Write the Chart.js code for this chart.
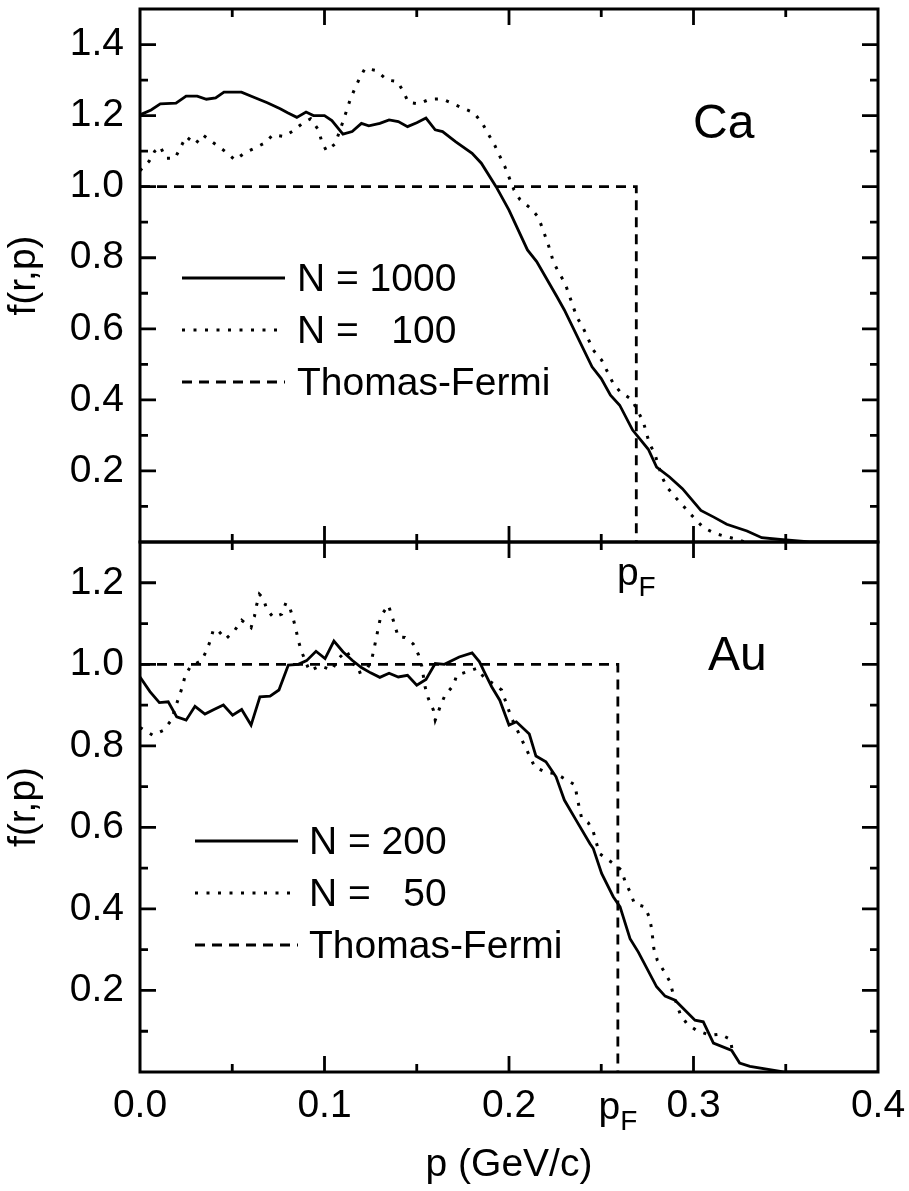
<!DOCTYPE html>
<html>
<head>
<meta charset="utf-8">
<script src="https://cdn.jsdelivr.net/npm/chart.js@4.4.0/dist/chart.umd.min.js"></script>
<style>
  html, body { margin: 0; padding: 0; background: #fff; }
  #wrap { position: relative; width: 909px; height: 1191px; }
  canvas { position: absolute; left: 0; }
</style>
</head>
<body>
<div id="wrap">
  <canvas id="ca" width="909" height="600" style="top:0"></canvas>
  <canvas id="au" width="909" height="661" style="top:530px"></canvas>
</div>
<script>
// Valeurs (p en GeV/c, f(r,p))
const caPF = 0.269;
const auPF = 0.259;

// Ca, N = 1000
const caP1000 = [0, 0.006, 0.011, 0.0195, 0.025, 0.031, 0.036, 0.041, 0.0455, 0.055, 0.061, 0.069, 0.076, 0.080, 0.085,
  0.090, 0.094, 0.100, 0.104, 0.110, 0.115, 0.120, 0.124, 0.130, 0.135, 0.140, 0.145, 0.150, 0.155, 0.160,
  0.164, 0.171, 0.180, 0.185, 0.193, 0.200, 0.210, 0.215, 0.226, 0.230, 0.245, 0.250, 0.255, 0.260, 0.267,
  0.2755, 0.280, 0.287, 0.294, 0.304, 0.311, 0.318, 0.329, 0.337, 0.347, 0.363, 0.400];
const caF1000 = [1.202, 1.216, 1.233, 1.235, 1.255, 1.255, 1.246, 1.25, 1.266, 1.266, 1.253, 1.236, 1.219, 1.208, 1.195,
  1.21, 1.20, 1.20, 1.186, 1.148, 1.155, 1.178, 1.171, 1.178, 1.188, 1.183, 1.169, 1.18, 1.193, 1.16,
  1.155, 1.127, 1.094, 1.066, 1.0, 0.934, 0.822, 0.789, 0.69, 0.653, 0.493, 0.46, 0.413, 0.385, 0.315,
  0.261, 0.211, 0.183, 0.15, 0.089, 0.07, 0.05, 0.031, 0.012, 0.007, 0, 0];

// Ca, N = 100
const caP100 = [0, 0.005, 0.008, 0.011, 0.014, 0.019, 0.022, 0.025, 0.030, 0.034, 0.038, 0.042, 0.047, 0.0515, 0.057,
  0.062, 0.068, 0.072, 0.078, 0.083, 0.0885, 0.0925, 0.0967, 0.0985, 0.101, 0.1057, 0.110, 0.114, 0.1165, 0.119,
  0.122, 0.128, 0.134, 0.1395, 0.1427, 0.1455, 0.151, 0.157, 0.1635, 0.169, 0.175, 0.181, 0.1857, 0.189, 0.1924,
  0.195, 0.1978, 0.2002, 0.2027, 0.206, 0.2118, 0.2159, 0.2183, 0.2204, 0.2222, 0.224, 0.2267, 0.2304, 0.2367, 0.2403,
  0.2457, 0.2502, 0.2565, 0.2602, 0.2665, 0.2701, 0.2728, 0.276, 0.2791, 0.2828, 0.2855, 0.2909, 0.2981, 0.3053, 0.3117,
  0.3171, 0.323, 0.328];
const caF100 = [1.045, 1.072, 1.10, 1.113, 1.08, 1.08, 1.111, 1.141, 1.12, 1.146, 1.13, 1.115, 1.096, 1.075, 1.096,
  1.108, 1.124, 1.146, 1.141, 1.157, 1.18, 1.191, 1.16, 1.127, 1.101, 1.12, 1.183, 1.246, 1.277, 1.305,
  1.333, 1.327, 1.30, 1.296, 1.268, 1.237, 1.233, 1.246, 1.247, 1.235, 1.221, 1.208, 1.177, 1.146, 1.115,
  1.086, 1.056, 1.024, 0.991, 0.963, 0.939, 0.914, 0.88, 0.85, 0.822, 0.789, 0.761, 0.728, 0.634, 0.601,
  0.54, 0.512, 0.446, 0.423, 0.401, 0.366, 0.338, 0.279, 0.247, 0.185, 0.155, 0.122, 0.08, 0.041, 0.024,
  0.016, 0.0085, 0];

// Au, N = 200
const auP200 = [0, 0.0054, 0.0105, 0.0153, 0.0199, 0.025, 0.0298, 0.0352, 0.0401, 0.0452, 0.0502, 0.0551, 0.0602, 0.065, 0.0705,
  0.0753, 0.0804, 0.0858, 0.0903, 0.0954, 0.1003, 0.1051, 0.110, 0.115, 0.120, 0.125, 0.130, 0.135, 0.140, 0.145,
  0.150, 0.155, 0.160, 0.165, 0.173, 0.180, 0.184, 0.187, 0.1906, 0.195, 0.200, 0.204, 0.211, 0.2146, 0.220,
  0.2255, 0.230, 0.2358, 0.2439, 0.2457, 0.2502, 0.2565, 0.2602, 0.2656, 0.2701, 0.280, 0.2846, 0.290, 0.3008, 0.3053,
  0.3108, 0.3207, 0.325, 0.3306, 0.3487, 0.400];
const auF200 = [0.969, 0.933, 0.906, 0.908, 0.871, 0.863, 0.897, 0.878, 0.889, 0.90, 0.875, 0.889, 0.851, 0.92, 0.922,
  0.937, 0.998, 1.0, 1.009, 1.032, 1.014, 1.057, 1.031, 1.010, 0.992, 0.979, 0.968, 0.978, 0.969, 0.973,
  0.949, 0.963, 1.002, 1.0, 1.018, 1.028, 1.006, 0.978, 0.945, 0.912, 0.851, 0.859, 0.829, 0.775, 0.761,
  0.724, 0.667, 0.622, 0.560, 0.548, 0.487, 0.430, 0.405, 0.327, 0.294, 0.209, 0.186, 0.176, 0.127, 0.123,
  0.071, 0.053, 0.022, 0.014, 0, 0];

// Au, N = 50
const auP50 = [0, 0.007, 0.0126, 0.017, 0.0208, 0.023, 0.0244, 0.0275, 0.0334, 0.036, 0.0383, 0.0398, 0.0425, 0.0464, 0.0511,
  0.0551, 0.0602, 0.062, 0.0632, 0.0647, 0.0668, 0.0687, 0.0723, 0.0768, 0.0791, 0.0813, 0.0831, 0.0846, 0.0858, 0.0876,
  0.0918, 0.0976, 0.104, 0.1075, 0.112, 0.1183, 0.1229, 0.1256, 0.1268, 0.128, 0.1292, 0.1305, 0.1346, 0.1364, 0.1382,
  0.14, 0.1436, 0.1481, 0.1509, 0.1527, 0.1545, 0.1563, 0.159, 0.16, 0.163, 0.1653, 0.170, 0.1716, 0.1825, 0.187,
  0.1915, 0.196, 0.2002, 0.2015, 0.214, 0.2204, 0.2255, 0.2313, 0.2358, 0.2367, 0.238, 0.2394, 0.243, 0.2457, 0.249,
  0.257, 0.261, 0.263, 0.2656, 0.268, 0.2737, 0.276, 0.2773, 0.2785, 0.2804, 0.2836, 0.2873, 0.2887, 0.2927, 0.2963,
  0.3017, 0.309, 0.3144, 0.32, 0.321, 0.3225];
const auF50 = [0.845, 0.826, 0.838, 0.863, 0.916, 0.945, 0.971, 0.996, 1.009, 1.033, 1.06, 1.086, 1.082, 1.062, 1.082,
  1.108, 1.09, 1.117, 1.145, 1.172, 1.162, 1.135, 1.115, 1.123, 1.151, 1.137, 1.111, 1.084, 1.058, 1.031,
  0.984, 0.996, 0.986, 1.014, 1.033, 0.979, 0.987, 1.012, 1.037, 1.063, 1.09, 1.118, 1.145, 1.121, 1.094,
  1.067, 1.066, 1.05, 1.024, 0.996, 0.945, 0.916, 0.888, 0.863, 0.90, 0.924, 0.949, 0.973, 0.99, 0.965,
  0.953, 0.937, 0.883, 0.867, 0.748, 0.734, 0.732, 0.716, 0.704, 0.679, 0.65, 0.622, 0.611, 0.589, 0.536,
  0.51, 0.495, 0.466, 0.442, 0.413, 0.405, 0.380, 0.352, 0.303, 0.274, 0.25, 0.221, 0.196, 0.143, 0.119,
  0.102, 0.09, 0.093, 0.08, 0.053, 0.04];

// Thomas-Fermi : marche jusqu'à pF
const caTfP = [0, caPF, caPF];
const auTfP = [0, auPF, auPF];
const tfF = [1, 1, 0];

// Graduations
const xLabels = [0, 0.1, 0.2, 0.3, 0.4];
const caYLabels = [0.2, 0.4, 0.6, 0.8, 1.0, 1.2, 1.4];
const auYLabels = [0.2, 0.4, 0.6, 0.8, 1.0, 1.2];

const FONT = '"Liberation Sans", Arial, Helvetica, sans-serif';
Chart.defaults.font.family = FONT;
Chart.defaults.font.size = 39;
Chart.defaults.color = '#000';

const toPoints = (xs, ys) => xs.map((x, i) => ({ x, y: ys[i] }));

function line(label, xs, ys, dash, width) {
  return {
    label,
    data: toPoints(xs, ys),
    borderColor: '#000',
    borderWidth: width,
    borderDash: dash,
    borderCapStyle: 'butt',
    pointRadius: 0,
    tension: 0,
    fill: false
  };
}

// Pas de marge automatique autour des axes : la zone de tracé est fixée par layout.padding
function noPad(s) {
  s.paddingTop = 0;
  s.paddingBottom = 0;
  s.paddingLeft = 0;
  s.paddingRight = 0;
}

/**
 * Cadre, graduations internes, légende, étiquette et pF
 */
const panelPlugin = {
  id: 'panel',
  afterDatasetsDraw(chart, args, o) {
    const { ctx, chartArea: a, scales: { x, y } } = chart;
    ctx.save();
    ctx.strokeStyle = '#000';
    ctx.fillStyle = '#000';
    ctx.setLineDash([]);

    // graduations vers l'intérieur
    ctx.lineWidth = 2.8;
    ctx.beginPath();
    for (let i = 1; i < 8; i++) {
      const px = x.getPixelForValue(i * 0.05);
      const len = i % 2 ? 8 : 16;
      ctx.moveTo(px, a.top); ctx.lineTo(px, a.top + len);
      ctx.moveTo(px, a.bottom); ctx.lineTo(px, a.bottom - len);
    }
    const n = Math.round(y.max * 10);
    for (let v = 1; v < n; v++) {
      const py = y.getPixelForValue(v / 10);
      const len = v % 2 ? 8 : 16;
      ctx.moveTo(a.left, py); ctx.lineTo(a.left + len, py);
      ctx.moveTo(a.right, py); ctx.lineTo(a.right - len, py);
    }
    ctx.stroke();

    // cadre
    ctx.lineWidth = 3;
    ctx.strokeRect(a.left, a.top, a.right - a.left, a.bottom - a.top);

    // légende
    const lg = o.legend;
    chart.data.datasets.forEach((ds, i) => {
      const ly = lg.rows[i];
      ctx.lineWidth = ds.borderWidth;
      ctx.setLineDash(ds.borderDash || []);
      ctx.beginPath();
      ctx.moveTo(lg.x0, ly); ctx.lineTo(lg.x1, ly);
      ctx.stroke();
      ctx.setLineDash([]);
      ctx.font = '39px ' + FONT;
      ctx.textAlign = 'left';
      ctx.textBaseline = 'middle';
      ctx.fillText(ds.label, lg.textX, ly + 2);
    });

    // noyau
    ctx.font = '48px ' + FONT;
    ctx.textBaseline = 'alphabetic';
    ctx.fillText(o.label, o.labelX, o.labelY);

    // pF sous l'axe
    const pf = x.getPixelForValue(o.pF);
    ctx.font = '39px ' + FONT;
    const wp = ctx.measureText('p').width;
    ctx.font = '28px ' + FONT;
    const wf = ctx.measureText('F').width;
    const x0 = pf - (wp + wf) / 2;
    ctx.font = '39px ' + FONT;
    ctx.fillText('p', x0, o.pFy);
    ctx.font = '28px ' + FONT;
    ctx.fillText('F', x0 + wp, o.pFy + 11);
    ctx.restore();
  }
};

function yScale(max, labels, title) {
  return {
    type: 'linear',
    min: 0,
    max: max,
    afterBuildTicks: s => { s.ticks = labels.map(v => ({ value: v })); },
    afterFit: s => { s.width = 140; noPad(s); },
    grid: { display: false, drawTicks: false },
    border: { display: false },
    ticks: { padding: 16, callback: v => v.toFixed(1) },
    title: { display: true, text: title, padding: { top: 1, bottom: 0 } }
  };
}

const common = {
  responsive: false,
  animation: false,
  devicePixelRatio: 1,
  plugins: { legend: { display: false }, tooltip: { enabled: false } }
};

// Panneau du haut : Ca
new Chart(document.getElementById('ca'), {
  type: 'line',
  data: {
    datasets: [
      line('N = 1000', caP1000, caF1000, [], 2.8),
      line('N =   100', caP100, caF100, [3, 8.5], 3),
      line('Thomas-Fermi', caTfP, tfF, [10, 7], 2.8)
    ]
  },
  options: {
    ...common,
    layout: { padding: { left: 0, right: 31, top: 9, bottom: 58 } },
    scales: {
      x: { type: 'linear', min: 0, max: 0.4, display: false },
      y: yScale(1.5, caYLabels, 'f(r,p)')
    },
    plugins: {
      ...common.plugins,
      panel: {
        label: 'Ca', labelX: 693, labelY: 138,
        pF: caPF, pFy: 585,
        legend: { x0: 182, x1: 285, textX: 297, rows: [278, 330, 382] }
      }
    }
  },
  plugins: [panelPlugin]
});

// Panneau du bas : Au
new Chart(document.getElementById('au'), {
  type: 'line',
  data: {
    datasets: [
      line('N = 200', auP200, auF200, [], 2.8),
      line('N =   50', auP50, auF50, [3, 8.5], 3),
      line('Thomas-Fermi', auTfP, tfF, [10, 7], 2.8)
    ]
  },
  options: {
    ...common,
    layout: { padding: { left: 0, right: 31, top: 12, bottom: 0 } },
    scales: {
      x: {
        type: 'linear',
        min: 0,
        max: 0.4,
        afterBuildTicks: s => { s.ticks = xLabels.map(v => ({ value: v })); },
        afterFit: s => { s.height = 119; noPad(s); },
        grid: { display: false, drawTicks: false },
        border: { display: false },
        ticks: { padding: 11, autoSkip: false, maxRotation: 0, callback: v => v.toFixed(1) },
        title: { display: true, text: 'p (GeV/c)', padding: { top: 0, bottom: 2 } }
      },
      y: yScale(1.3, auYLabels, 'f(r,p)')
    },
    plugins: {
      ...common.plugins,
      panel: {
        label: 'Au', labelX: 708, labelY: 140,
        pF: auPF, pFy: 589,
        legend: { x0: 195, x1: 298, textX: 309, rows: [311, 363, 415] }
      }
    }
  },
  plugins: [panelPlugin]
});
</script>
</body>
</html>
